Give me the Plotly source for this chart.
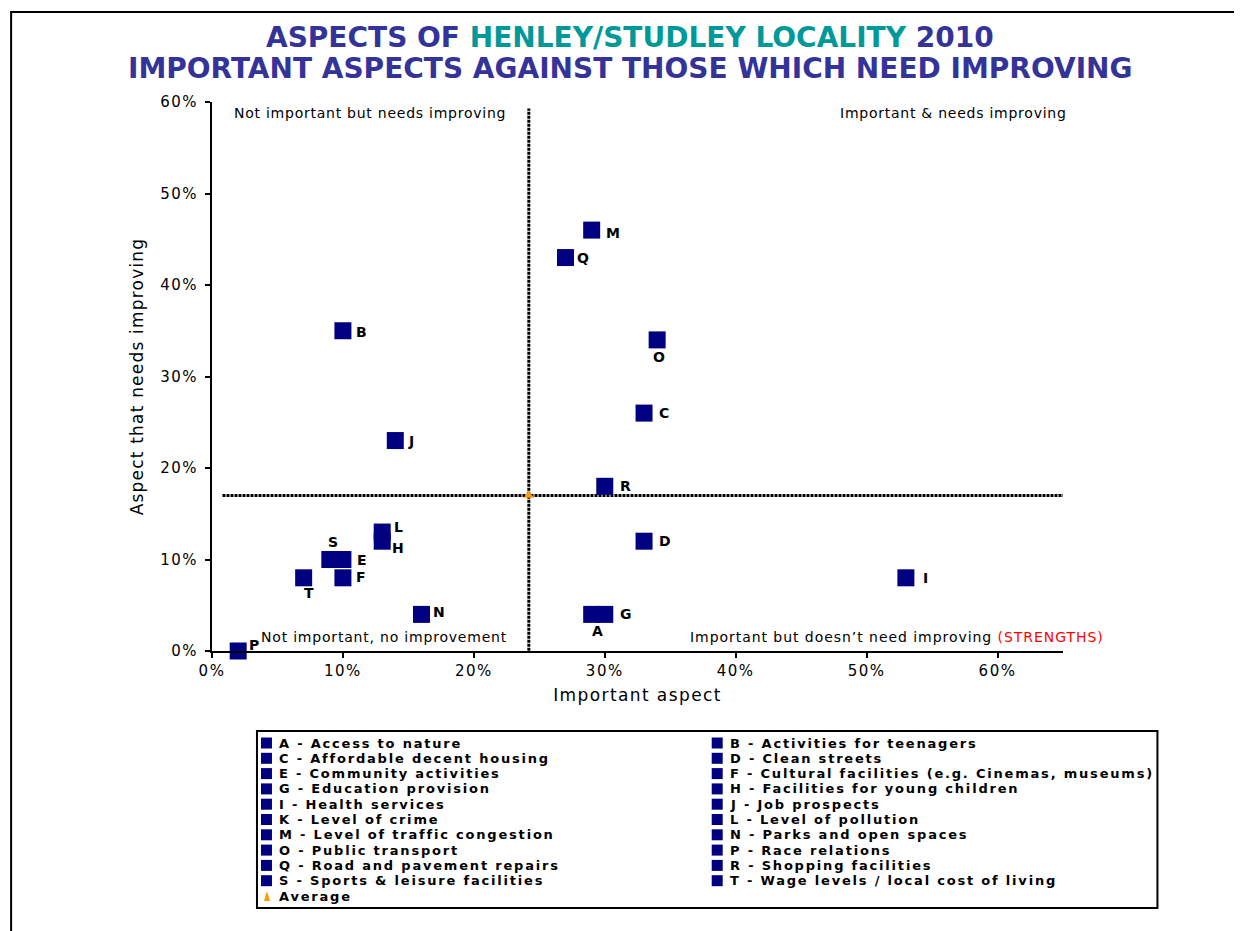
import numpy as np
import plotly.graph_objects as go

# ---------------- data ----------------
codes = ["A", "B", "C", "D", "E", "F", "G", "H", "I", "J",
         "K", "L", "M", "N", "O", "P", "Q", "R", "S", "T"]
names = ["Access to nature", "Activities for teenagers", "Affordable decent housing",
         "Clean streets", "Community activities", "Cultural facilities (e.g. Cinemas, museums)",
         "Education provision", "Facilities for young children", "Health services",
         "Job prospects", "Level of crime", "Level of pollution", "Level of traffic congestion",
         "Parks and open spaces", "Public transport", "Race relations",
         "Road and pavement repairs", "Shopping facilities", "Sports & leisure facilities",
         "Wage levels / local cost of living"]
important = [0.29, 0.10, 0.33, 0.33, 0.10, 0.10, 0.30, 0.13, 0.53, 0.14,
             0.82, 0.13, 0.29, 0.16, 0.34, 0.02, 0.27, 0.30, 0.09, 0.07]
needs_improving = [0.04, 0.35, 0.26, 0.12, 0.10, 0.08, 0.04, 0.12, 0.08, 0.23,
                   0.22, 0.13, 0.46, 0.04, 0.34, 0.00, 0.43, 0.18, 0.10, 0.08]
tick_vals = [0.0, 0.1, 0.2, 0.3, 0.4, 0.5, 0.6]
tick_text = ["0%", "10%", "20%", "30%", "40%", "50%", "60%"]

avg_x = float(np.mean(important))
avg_y = float(np.mean(needs_improving))

# ---------------- styling ----------------
# page body has an 8px margin, so the figure is drawn 8px smaller and
# all reference-pixel positions are converted relative to the plot area.
W, H = 1234, 923
ML, MR, MT, MB = 204, 178.5, 94, 280
PW, PH = W - ML - MR, H - MT - MB
REF_X0, REF_Y0 = 212, 651          # reference pixels of the plot origin
NAVY = "#000080"
ORANGE = "#FF9900"
TITLE_BLUE = "#333399"
TEAL = "#009999"
FONT = "DejaVu Sans"
X_MAX = 0.65


def px(xp):
    return (xp - REF_X0) / PW


def py(yp):
    return (REF_Y0 - yp) / PH


def spaced(t, s):
    return f"<span style='letter-spacing:{s}px'>{t}</span>"


# label offsets in pixels (dx right, dy down)
label_off = {
    "A": (6, 17), "B": (19, 1), "C": (20, 0), "D": (21, 0), "E": (19, 0),
    "F": (18, -1), "G": (21, 0), "H": (16, 7), "I": (20, 0), "J": (16, 0),
    "K": (18, 0), "L": (16, -5), "M": (21, 3), "N": (18, -2), "O": (2, 17),
    "P": (16, -6), "Q": (18, 0), "R": (21, 0), "S": (3, -18), "T": (5, 15),
}

fig = go.Figure()

fig.add_trace(go.Scatter(
    x=important, y=needs_improving, mode="markers",
    marker=dict(symbol="square", size=17, color=NAVY, line=dict(width=0)),
    text=[f"{c} - {n}" for c, n in zip(codes, names)],
    hoverinfo="text", cliponaxis=False, showlegend=False,
))
fig.add_trace(go.Scatter(
    x=[avg_x], y=[avg_y], mode="markers",
    marker=dict(symbol="triangle-up", size=9, color=ORANGE),
    cliponaxis=False, showlegend=False, hoverinfo="skip",
))

dash_line = dict(color="black", width=3, dash="3px,1px")
shapes = [
    dict(type="line", xref="x", yref="y", x0=avg_x, x1=avg_x, y0=-0.004, y1=0.593,
         line=dash_line, layer="below"),
    dict(type="line", xref="x", yref="y", x0=0.008, x1=0.665, y0=avg_y, y1=avg_y,
         line=dash_line, layer="below"),
    # outer frame
    dict(type="rect", xref="paper", yref="paper",
         x0=px(11), x1=px(1270), y0=py(960), y1=py(12),
         line=dict(color="black", width=2), fillcolor="rgba(0,0,0,0)"),
    # legend box
    dict(type="rect", xref="paper", yref="paper",
         x0=px(257), x1=px(1158), y0=py(908), y1=py(731),
         line=dict(color="black", width=2), fillcolor="white"),
]

annotations = []
# point labels
for c, xv, yv in zip(codes, important, needs_improving):
    if xv > X_MAX:
        continue
    dx, dy = label_off[c]
    annotations.append(dict(x=xv, y=yv, xref="x", yref="y", text=f"<b>{c}</b>",
                            showarrow=False, xshift=dx, yshift=-dy,
                            font=dict(family=FONT, size=14, color="black")))

# quadrant labels
qfont = dict(family=FONT, size=14, color="black")
annotations += [
    dict(x=px(232), y=py(113), xref="paper", yref="paper", xanchor="left", yanchor="middle",
         text=spaced("Not important but needs improving", 0.75), showarrow=False, font=qfont),
    dict(x=px(1070), y=py(113), xref="paper", yref="paper", xanchor="right", yanchor="middle",
         text=spaced("Important &amp; needs improving", 0.75), showarrow=False, font=qfont),
    dict(x=px(509), y=py(637), xref="paper", yref="paper", xanchor="right", yanchor="middle",
         text=spaced("Not important, no improvement", 0.8), showarrow=False, font=qfont),
    dict(x=px(1107), y=py(637), xref="paper", yref="paper", xanchor="right", yanchor="middle",
         text=spaced("Important but doesn\u2019t need improving "
                     "<span style='color:#FF0000'>(STRENGTHS)</span>", 0.95),
         showarrow=False, font=qfont),
]

# legend (two columns, row-wise) with drawn swatches
lfont = dict(family=FONT, size=13, color="black")
row_y0, row_dy = 743, 15.3
col_x = [261, 712]
SW = 11
entries = [(c + " - " + n, "square") for c, n in zip(codes, names)]
entries.append(("Average", "triangle"))
for i, (t, kind) in enumerate(entries):
    r, col = divmod(i, 2)
    yc = row_y0 + r * row_dy
    x0 = col_x[col]
    if kind == "square":
        shapes.append(dict(type="rect", xref="paper", yref="paper",
                           x0=px(x0), x1=px(x0 + SW), y0=py(yc + SW / 2), y1=py(yc - SW / 2),
                           line=dict(width=0), fillcolor=NAVY))
    else:
        shapes.append(dict(type="path", xref="paper", yref="paper",
                           path=(f"M {px(x0 + 3)} {py(yc + 5)} L {px(x0 + 9)} {py(yc + 5)} "
                                 f"L {px(x0 + 6)} {py(yc - 5)} Z"),
                           line=dict(width=0), fillcolor=ORANGE))
    annotations.append(dict(x=px(x0 + SW + 5), y=py(yc), xref="paper", yref="paper",
                            xanchor="left", yanchor="middle", text=f"<b>{spaced(t, 1.8)}</b>",
                            showarrow=False, font=lfont))

# title
annotations.append(dict(
    x=px(630), y=py(37), xref="paper", yref="paper", xanchor="center", yanchor="middle",
    showarrow=False, font=dict(family=FONT, size=28, color=TITLE_BLUE),
    text=f"<b>ASPECTS OF <span style='color:{TEAL}'>HENLEY/STUDLEY LOCALITY</span> 2010</b>"))
annotations.append(dict(
    x=px(630), y=py(69), xref="paper", yref="paper", xanchor="center", yanchor="middle",
    showarrow=False, font=dict(family=FONT, size=28, color=TITLE_BLUE),
    text="<b>IMPORTANT ASPECTS AGAINST THOSE WHICH NEED IMPROVING</b>"))

axis_common = dict(
    tickmode="array", tickvals=tick_vals, ticktext=[spaced(t, 1.5) for t in tick_text],
    showgrid=False, zeroline=False, showline=True, linecolor="black", linewidth=2,
    ticks="outside", ticklen=5, tickwidth=2, tickcolor="black",
    tickfont=dict(family=FONT, size=15, color="black"),
)

fig.update_layout(
    width=W, height=H, autosize=False,
    margin=dict(l=ML, r=MR, t=MT, b=MB, pad=0),
    paper_bgcolor="white", plot_bgcolor="white",
    xaxis=dict(range=[0, X_MAX],
               title=dict(text=spaced("Important aspect", 1.4), standoff=10,
                          font=dict(family=FONT, size=17, color="black")), **axis_common),
    yaxis=dict(range=[0, 0.6], ticklabelstandoff=4,
               title=dict(text=spaced("Aspect that needs improving", 1.2), standoff=12,
                          font=dict(family=FONT, size=17, color="black")), **axis_common),
    shapes=shapes, annotations=annotations, showlegend=False,
)

fig.write_html("out.html")
